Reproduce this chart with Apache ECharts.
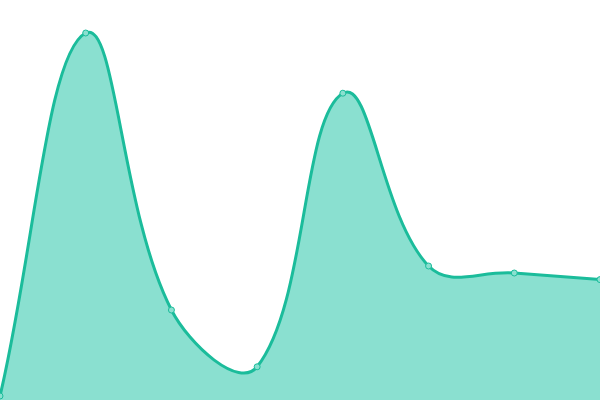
<!DOCTYPE html>
<html><head><meta charset="utf-8">
<script src="https://cdn.jsdelivr.net/npm/echarts@6/dist/echarts.min.js"></script>
<style>html,body{margin:0;padding:0;background:#fff}#c{width:600px;height:400px}</style>
</head><body><div id="c"></div>
<script>
const categories = ['A','B','C','D','E','F','G','H'];
const values = [1, 91.75, 22.5, 8.3, 76.7, 33.5, 31.75, 30.1];
const LINE = '#1bbc9b', FILL = '#8ae0d0';
const TENSION = 0.4;

function smoothPath(pts, W, H) {
  const clamp = c => [Math.min(Math.max(c[0], 0), W), Math.min(Math.max(c[1], 0), H)];
  const n = pts.length;
  const cin = [], cout = [];
  for (let i = 0; i < n; i++) {
    const p = pts[i];
    const a = pts[Math.max(i - 1, 0)], b = pts[Math.min(i + 1, n - 1)];
    const d01 = Math.hypot(p[0] - a[0], p[1] - a[1]);
    const d12 = Math.hypot(b[0] - p[0], b[1] - p[1]);
    let s01 = d01 / (d01 + d12), s12 = d12 / (d01 + d12);
    if (isNaN(s01)) s01 = 0;
    if (isNaN(s12)) s12 = 0;
    const fa = TENSION * s01, fb = TENSION * s12;
    cin.push(clamp([p[0] - fa * (b[0] - a[0]), p[1] - fa * (b[1] - a[1])]));
    cout.push(clamp([p[0] + fb * (b[0] - a[0]), p[1] + fb * (b[1] - a[1])]));
  }
  let d = 'M' + pts[0][0] + ' ' + pts[0][1];
  for (let i = 1; i < n; i++) {
    const c0 = cout[i - 1], c1 = cin[i];
    d += ' C' + c0[0] + ' ' + c0[1] + ' ' + c1[0] + ' ' + c1[1] + ' ' + pts[i][0] + ' ' + pts[i][1];
  }
  return d;
}

const chart = echarts.init(document.getElementById('c'));
chart.setOption({
  animation: false,
  grid: {left: 0, right: 0, top: 0, bottom: 0},
  xAxis: {type: 'category', data: categories, boundaryGap: false, show: false},
  yAxis: {type: 'value', min: 0, max: 100, show: false},
  series: [{
    type: 'custom',
    data: [[0, 0]],
    encode: {x: 0, y: 1},
    silent: true,
    renderItem: function (params, api) {
      const pts = values.map((v, i) => api.coord([i, v]));
      const base = api.coord([0, 0])[1];
      const top = smoothPath(pts, api.getWidth(), api.getHeight());
      const area = top + ' L' + pts[pts.length - 1][0] + ' ' + base + ' L' + pts[0][0] + ' ' + base + ' Z';
      return {
        type: 'group',
        children: [
          {type: 'path', shape: {pathData: area}, style: {fill: FILL, stroke: null}},
          {type: 'path', shape: {pathData: top}, style: {fill: null, stroke: LINE, lineWidth: 3}}
        ]
      };
    }
  }, {
    type: 'scatter',
    data: values,
    z: 3,
    symbol: 'circle',
    symbolSize: 6,
    itemStyle: {color: FILL, borderColor: LINE, borderWidth: 1, opacity: 1}
  }]
});
</script></body></html>
